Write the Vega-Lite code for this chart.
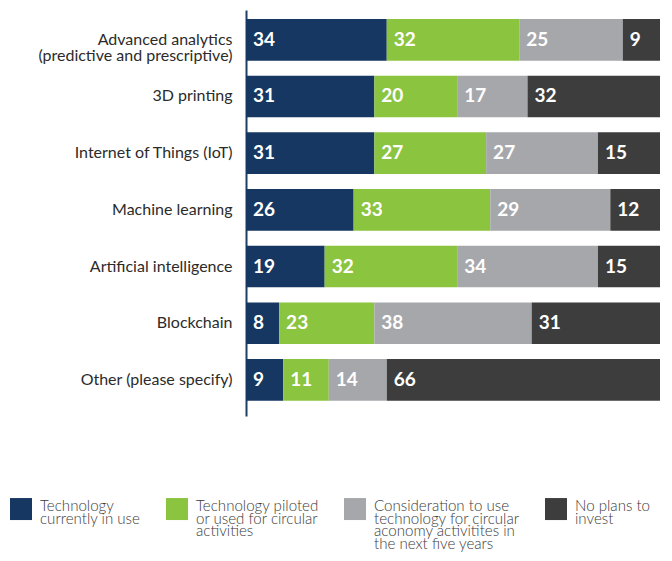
{
  "$schema": "https://vega.github.io/schema/vega-lite/v6.json",
  "width": 414,
  "height": 406,
  "autosize": {"type": "none"},
  "padding": {"left": 246, "top": 10, "right": 12, "bottom": 145},
  "background": "white",
  "config": {"view": {"stroke": null}, "font": "Lato"},
  "data": {
    "values": [
      {"tech": "Advanced analytics (predictive and prescriptive)", "status": "Technology currently in use", "o": 1, "v": 34},
      {"tech": "Advanced analytics (predictive and prescriptive)", "status": "Technology piloted or used for circular activities", "o": 2, "v": 32},
      {"tech": "Advanced analytics (predictive and prescriptive)", "status": "Consideration to use technology for circular aconomy activitites in the next five years", "o": 3, "v": 25},
      {"tech": "Advanced analytics (predictive and prescriptive)", "status": "No plans to invest", "o": 4, "v": 9},
      {"tech": "3D printing", "status": "Technology currently in use", "o": 1, "v": 31},
      {"tech": "3D printing", "status": "Technology piloted or used for circular activities", "o": 2, "v": 20},
      {"tech": "3D printing", "status": "Consideration to use technology for circular aconomy activitites in the next five years", "o": 3, "v": 17},
      {"tech": "3D printing", "status": "No plans to invest", "o": 4, "v": 32},
      {"tech": "Internet of Things (IoT)", "status": "Technology currently in use", "o": 1, "v": 31},
      {"tech": "Internet of Things (IoT)", "status": "Technology piloted or used for circular activities", "o": 2, "v": 27},
      {"tech": "Internet of Things (IoT)", "status": "Consideration to use technology for circular aconomy activitites in the next five years", "o": 3, "v": 27},
      {"tech": "Internet of Things (IoT)", "status": "No plans to invest", "o": 4, "v": 15},
      {"tech": "Machine learning", "status": "Technology currently in use", "o": 1, "v": 26},
      {"tech": "Machine learning", "status": "Technology piloted or used for circular activities", "o": 2, "v": 33},
      {"tech": "Machine learning", "status": "Consideration to use technology for circular aconomy activitites in the next five years", "o": 3, "v": 29},
      {"tech": "Machine learning", "status": "No plans to invest", "o": 4, "v": 12},
      {"tech": "Artificial intelligence", "status": "Technology currently in use", "o": 1, "v": 19},
      {"tech": "Artificial intelligence", "status": "Technology piloted or used for circular activities", "o": 2, "v": 32},
      {"tech": "Artificial intelligence", "status": "Consideration to use technology for circular aconomy activitites in the next five years", "o": 3, "v": 34},
      {"tech": "Artificial intelligence", "status": "No plans to invest", "o": 4, "v": 15},
      {"tech": "Blockchain", "status": "Technology currently in use", "o": 1, "v": 8},
      {"tech": "Blockchain", "status": "Technology piloted or used for circular activities", "o": 2, "v": 23},
      {"tech": "Blockchain", "status": "Consideration to use technology for circular aconomy activitites in the next five years", "o": 3, "v": 38},
      {"tech": "Blockchain", "status": "No plans to invest", "o": 4, "v": 31},
      {"tech": "Other (please specify)", "status": "Technology currently in use", "o": 1, "v": 9},
      {"tech": "Other (please specify)", "status": "Technology piloted or used for circular activities", "o": 2, "v": 11},
      {"tech": "Other (please specify)", "status": "Consideration to use technology for circular aconomy activitites in the next five years", "o": 3, "v": 14},
      {"tech": "Other (please specify)", "status": "No plans to invest", "o": 4, "v": 66}
    ]
  },
  "transform": [
    {"stack": "v", "groupby": ["tech"], "sort": [{"field": "o", "order": "ascending"}], "as": ["x0", "x1"]}
  ],
  "encoding": {
    "y": {
      "field": "tech",
      "type": "nominal",
      "sort": ["Advanced analytics (predictive and prescriptive)", "3D printing", "Internet of Things (IoT)", "Machine learning", "Artificial intelligence", "Blockchain", "Other (please specify)"],
      "scale": {"paddingInner": 0.265, "paddingOuter": 0.214, "align": 0.37},
      "axis": {
        "title": null,
        "ticks": false,
        "labelPadding": 14,
        "labelFont": "Lato",
        "labelFontSize": 16,
        "labelColor": "#2b2b2b",
        "labelLimit": 300,
        "labelLineHeight": 16,
        "labelExpr": "datum.value == 'Advanced analytics (predictive and prescriptive)' ? ['Advanced analytics', '(predictive and prescriptive)'] : datum.value",
        "domainColor": "#1f3f66",
        "domainWidth": 2
      }
    }
  },
  "layer": [
    {
      "mark": {"type": "bar"},
      "encoding": {
        "x": {"field": "x0", "type": "quantitative", "scale": {"domain": [0, 100]}, "axis": null},
        "x2": {"field": "x1"},
        "color": {
          "field": "status",
          "type": "nominal",
          "scale": {
            "domain": ["Technology currently in use", "Technology piloted or used for circular activities", "Consideration to use technology for circular aconomy activitites in the next five years", "No plans to invest"],
            "range": ["#163761", "#8bc43f", "#a6a7ab", "#3d3d3d"]
          },
          "legend": {
            "title": null,
            "orient": "none",
            "legendX": -236,
            "legendY": 488,
            "direction": "horizontal",
            "columns": 4,
            "columnPadding": 25,
            "padding": 0,
            "symbolType": "square",
            "symbolSize": 484,
            "symbolStrokeWidth": 0,
            "symbolOpacity": 1,
            "labelOffset": 8,
            "labelFont": "Lato",
            "labelFontSize": 15.1,
            "labelFontWeight": 300,
            "labelColor": "#3a3a3a",
            "labelLimit": 300,
            "labelBaseline": "top",
            "labelExpr": "datum.value == 'Technology currently in use' ? ['Technology', 'currently in use', '', ''] : datum.value == 'Technology piloted or used for circular activities' ? ['Technology piloted', 'or used for circular', 'activities', ''] : datum.value == 'No plans to invest' ? ['No plans to', 'invest', '', ''] : ['Consideration to use', 'technology for circular', 'aconomy activitites in', 'the next five years']",
            "encode": {"labels": {"update": {"lineHeight": {"value": 12.6}, "baseline": {"value": "top"}, "dy": {"value": -10}}}}
          }
        }
      }
    },
    {
      "mark": {"type": "text", "align": "left", "baseline": "middle", "dx": 7, "font": "Lato", "fontWeight": "bold", "fontSize": 19, "color": "white"},
      "encoding": {
        "x": {"field": "x0", "type": "quantitative"},
        "text": {"field": "v", "type": "quantitative"}
      }
    }
  ]
}
